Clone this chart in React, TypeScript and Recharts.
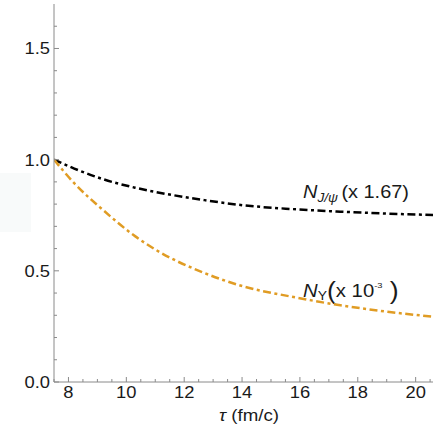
import { LineChart, Line, XAxis, YAxis, Customized } from 'recharts'

const tau = [7.5, 8.2, 9.2, 10.3, 11, 12.7, 14.1, 15.7, 17.4, 19.1, 20.65]
const nJpsi = [1.0, 0.96, 0.912, 0.874, 0.855, 0.818, 0.794, 0.778, 0.766, 0.757, 0.751]
const nUpsilon = [1.0, 0.894, 0.773, 0.656, 0.596, 0.49, 0.428, 0.384, 0.345, 0.315, 0.293]

const xMajor = [8, 10, 12, 14, 16, 18, 20]
const xTicks = [7.5, 8, 8.5, 9, 9.5, 10, 10.5, 11, 11.5, 12, 12.5, 13, 13.5, 14, 14.5, 15, 15.5, 16, 16.5, 17, 17.5, 18, 18.5, 19, 19.5, 20, 20.5]
const yMajor = [0, 0.5, 1, 1.5]
const yTicks = [0, 0.1, 0.2, 0.3, 0.4, 0.5, 0.6, 0.7, 0.8, 0.9, 1, 1.1, 1.2, 1.3, 1.4, 1.5, 1.6]

const data = tau.map((t, i) => ({ tau: t, jpsi: nJpsi[i], upsilon: nUpsilon[i] }))

const AXIS = '#8a8a8a'
const FONT = '"Liberation Sans", Arial, sans-serif'
const TXT = '#1a1a1a'
const DASH = '8 3.5 3 3.5'

const isMajor = (list: number[], v: number) => list.some((m) => Math.abs(m - v) < 1e-6)

// text stretched a little sideways, the reference glyphs are wide
function SText({ x, y, sx = 1.08, anchor = 'start', size = 17, children }: any) {
  return (
    <text
      transform={`translate(${x} ${y}) scale(${sx} 1)`}
      textAnchor={anchor}
      fontSize={size}
      fontFamily={FONT}
      fill={TXT}
    >
      {children}
    </text>
  )
}

function BottomTick({ x, y, payload }: any) {
  const major = isMajor(xMajor, payload.value)
  return (
    <g>
      <line x1={x} x2={x} y1={y} y2={y - (major ? 5 : 3)} stroke={AXIS} />
      {major && (
        <SText x={x} y={y + 16} anchor="middle">
          {payload.value}
        </SText>
      )}
    </g>
  )
}

function TopTick({ x, y, payload }: any) {
  const major = isMajor(xMajor, payload.value)
  return <line x1={x} x2={x} y1={y} y2={y + (major ? 5 : 3)} stroke={AXIS} />
}

function LeftTick({ x, y, payload }: any) {
  const major = isMajor(yMajor, payload.value)
  return (
    <g>
      <line x1={x} x2={x + (major ? 5 : 3)} y1={y} y2={y} stroke={AXIS} />
      {major && (
        <SText x={x - 4} y={y + 6} anchor="end">
          {payload.value.toFixed(1)}
        </SText>
      )}
    </g>
  )
}

function RightTick({ x, y, payload }: any) {
  const major = isMajor(yMajor, payload.value)
  return <line x1={x} x2={x - (major ? 5 : 3)} y1={y} y2={y} stroke={AXIS} />
}

function Labels() {
  return (
    <g>
      <SText x={303} y={198} sx={1.14} size={17.5}>
        <tspan fontStyle="italic">N</tspan>
        <tspan fontStyle="italic" fontSize={12} dy={4}>J/ψ</tspan>
        <tspan dx={3} dy={-4}>(x 1.67)</tspan>
      </SText>
      <SText x={303} y={297} sx={1.16} size={17.5}>
        <tspan fontStyle="italic">N</tspan>
        <tspan fontSize={12} dy={3}>Υ</tspan>
        <tspan fontSize={23} dy={-1}>(</tspan>
        <tspan dy={-2}>x 10</tspan>
        <tspan fontSize={8} dy={-9}>-3</tspan>
        <tspan fontSize={23} dy={11}> )</tspan>
      </SText>
      <SText x={249} y={421} anchor="middle" sx={1.1}>
        <tspan fontStyle="italic">τ</tspan>
        <tspan> (fm/c)</tspan>
      </SText>
    </g>
  )
}

export default function App() {
  return (
    <div style={{ position: 'fixed', left: 0, top: 0, width: 436, height: 436, background: '#fff' }}>
      <div style={{ position: 'absolute', left: 0, top: 173, width: 31, height: 59, background: '#f8fafa' }} />
      <LineChart width={436} height={436} data={data} margin={{ top: 4, right: 3, bottom: 0, left: 0 }}>
        <XAxis
          dataKey="tau"
          type="number"
          domain={[7.5, 20.6]}
          ticks={xTicks}
          interval={0}
          tickSize={0}
          tickMargin={0}
          height={54}
          stroke={AXIS}
          tick={<BottomTick />}
          allowDataOverflow
        />
        <XAxis
          xAxisId="top"
          orientation="top"
          dataKey="tau"
          type="number"
          domain={[7.5, 20.6]}
          ticks={xTicks}
          interval={0}
          tickSize={0}
          tickMargin={0}
          height={0}
          stroke={AXIS}
          tick={<TopTick />}
          allowDataOverflow
        />
        <YAxis
          type="number"
          domain={[0, 1.7]}
          ticks={yTicks}
          interval={0}
          tickSize={0}
          tickMargin={0}
          width={54}
          stroke={AXIS}
          tick={<LeftTick />}
          allowDataOverflow
        />
        <YAxis
          yAxisId="right"
          orientation="right"
          type="number"
          domain={[0, 1.7]}
          ticks={yTicks}
          interval={0}
          tickSize={0}
          tickMargin={0}
          width={0}
          stroke={AXIS}
          tick={<RightTick />}
          allowDataOverflow
        />
        <Line
          dataKey="jpsi"
          type="monotone"
          stroke="#000"
          strokeWidth={2.5}
          strokeDasharray={DASH}
          dot={false}
          isAnimationActive={false}
        />
        <Line
          dataKey="upsilon"
          type="monotone"
          stroke="#E09C24"
          strokeWidth={2.5}
          strokeDasharray={DASH}
          dot={false}
          isAnimationActive={false}
        />
        <Customized component={Labels} />
      </LineChart>
    </div>
  )
}
